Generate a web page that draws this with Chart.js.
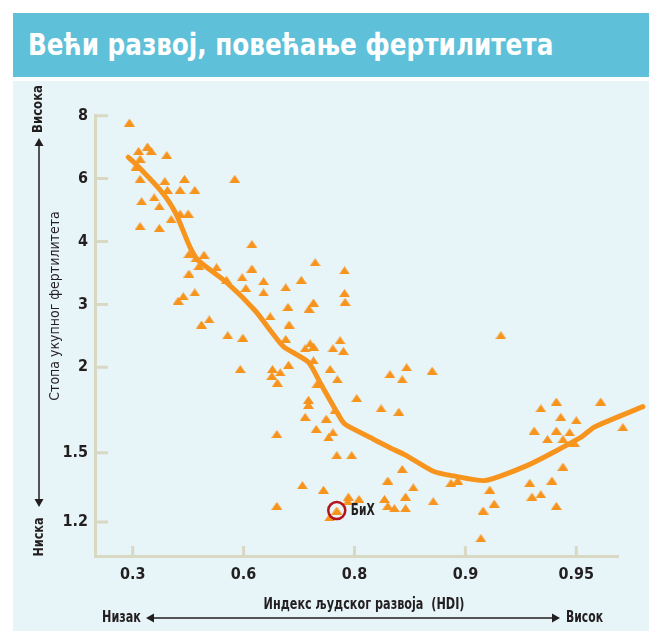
<!DOCTYPE html>
<html>
<head>
<meta charset="utf-8">
<script src="https://cdn.jsdelivr.net/npm/chart.js@4.4.1/dist/chart.umd.min.js"></script>
<style>
  html, body { margin: 0; padding: 0; background: #fff; }
  #wrap { position: relative; width: 649px; height: 631px; overflow: hidden; }
  #banner { position: absolute; left: 13px; top: 13px; width: 636px; height: 64px; background: #5ec1d9; }
  #banner h1 {
    position: absolute; left: 15px; top: 17px; margin: 0;
    font: bold 30px/30px 'Liberation Sans Narrow', 'DejaVu Sans Condensed', sans-serif;
    color: #fff; white-space: nowrap; transform-origin: 0 50%;
  }
  #panel { position: absolute; left: 13px; top: 81px; width: 636px; height: 550px; background: #e7f4f8; }
  #c { position: absolute; left: 0; top: 81px; }
</style>
</head>
<body>
<div id="wrap">
  <div id="banner"><h1 id="title">Већи развој, повећање фертилитета</h1></div>
  <div id="panel"></div>
  <canvas id="c" width="649" height="550"></canvas>
</div>
<script>
// земље: ИХР и стопа укупног фертилитета
const hdi = [
  0.291, 0.316, 0.340, 0.350, 0.392, 0.320, 0.309, 0.320, 0.387, 0.440,
  0.576, 0.394, 0.428, 0.468, 0.324, 0.358, 0.372, 0.404, 0.428, 0.450,
  0.320, 0.372, 0.615, 0.452, 0.493, 0.471, 0.479, 0.527, 0.615, 0.452,
  0.554, 0.596, 0.636, 0.604, 0.636, 0.676, 0.704, 0.729, 0.782, 0.782,
  0.783, 0.468, 0.437, 0.423, 0.680, 0.726, 0.718, 0.648, 0.682, 0.486,
  0.507, 0.557, 0.598, 0.676, 0.720, 0.726, 0.711, 0.774, 0.761, 0.780,
  0.726, 0.591, 0.652, 0.651, 0.666, 0.661, 0.681, 0.756, 0.769, 0.732,
  0.832, 0.847, 0.843, 0.870, 0.802, 0.824, 0.840, 0.717, 0.717, 0.711,
  0.749, 0.765, 0.731, 0.761, 0.753, 0.660, 0.768, 0.795, 0.843, 0.830,
  0.853, 0.846, 0.827, 0.871, 0.830, 0.836, 0.846, 0.789, 0.804, 0.788,
  0.706, 0.744, 0.755, 0.660, 0.887, 0.893, 0.911, 0.913, 0.908, 0.907,
  0.916, 0.934, 0.941, 0.961, 0.943, 0.950, 0.931, 0.941, 0.947, 0.937,
  0.944, 0.949, 0.971, 0.980, 0.944, 0.929, 0.939, 0.930, 0.934, 0.941
]
const tfr = [
  7.78, 6.88, 7.02, 6.88, 6.75, 6.63, 6.38, 5.99, 5.92, 5.99,
  5.99, 5.64, 5.64, 5.64, 5.28, 5.40, 5.12, 4.71, 4.89, 4.89,
  4.49, 4.43, 3.96, 3.80, 3.79, 3.73, 3.61, 3.59, 3.57, 3.49,
  3.39, 3.43, 3.37, 3.26, 3.19, 3.27, 3.39, 3.67, 3.54, 3.18,
  3.04, 3.19, 3.13, 3.06, 2.96, 3.03, 2.93, 2.81, 2.68, 2.68,
  2.76, 2.51, 2.47, 2.45, 2.38, 2.33, 2.30, 2.43, 2.30, 2.26,
  2.11, 1.99, 1.99, 1.95, 1.97, 1.91, 2.04, 1.99, 1.93, 1.90,
  1.96, 2.00, 1.93, 1.98, 1.82, 1.76, 1.74, 1.81, 1.78, 1.71,
  1.70, 1.75, 1.64, 1.62, 1.59, 1.61, 1.49, 1.49, 1.43, 1.38,
  1.35, 1.31, 1.30, 1.29, 1.27, 1.26, 1.26, 1.31, 1.30, 1.29,
  1.36, 1.34, 1.22, 1.27, 1.37, 1.38, 1.34, 1.28, 1.25, 1.13,
  2.51, 1.76, 1.80, 1.80, 1.71, 1.69, 1.63, 1.63, 1.62, 1.58,
  1.58, 1.56, 1.65, 1.62, 1.44, 1.37, 1.38, 1.31, 1.32, 1.27
]

// изглађена крива
const trendHdi = [0.288, 0.311, 0.374, 0.401, 0.421, 0.455, 0.477, 0.554, 0.621, 0.648,
  0.672, 0.717, 0.738, 0.777, 0.786, 0.817, 0.832, 0.846, 0.871, 0.889,
  0.909, 0.929, 0.952, 0.958, 0.980]
const trendTfr = [6.68, 6.43, 5.64, 5.21, 4.78, 3.91, 3.70, 3.35, 2.90, 2.59,
  2.33, 2.08, 1.91, 1.69, 1.66, 1.58, 1.53, 1.49, 1.42, 1.40,
  1.38, 1.45, 1.59, 1.65, 1.77]

// БиХ
const bihPoint = [0.768, 1.25]

const xTickLabels = ['0.3', '0.6', '0.8', '0.9', '0.95']
const yTickLabels = ['1.2', '1.5', '2', '3', '4', '6', '8']

// осе нису линеарне: подеоци стоје на овим местима
const xKnots = xTickLabels.map(Number)
const yKnots = yTickLabels.map(Number)
const xKnotPos = [0, 1, 2, 3, 4]
const yKnotPos = [0.54, 1.64, 3, 4, 5, 6, 7]

function knotPos(v, knots, pos) {
  let i = 0
  while (i < knots.length - 2 && v > knots[i + 1]) i++
  const t = (v - knots[i]) / (knots[i + 1] - knots[i])
  return pos[i] + t * (pos[i + 1] - pos[i])
}
const px = v => knotPos(v, xKnots, xKnotPos)
const py = v => knotPos(v, yKnots, yKnotPos)

const ORANGE = '#f7941d'
const AXIS = '#d9d8c3'
const INK = '#231f20'
const FONT = "'Liberation Sans Narrow', 'DejaVu Sans Condensed', sans-serif"

// наслов сабијен на ширину из оригинала
const title = document.getElementById('title')
title.style.transform = 'scaleX(' + Math.min(1, 525 / title.offsetWidth) + ')'

// мали спљоштени троугао
const tri = document.createElement('canvas')
tri.width = 11
tri.height = 8
const tctx = tri.getContext('2d')
tctx.fillStyle = ORANGE
tctx.beginPath()
tctx.moveTo(5.5, 0)
tctx.lineTo(11, 8)
tctx.lineTo(0, 8)
tctx.closePath()
tctx.fill()

function arrowHead(ctx, x, y, dx, dy) {
  // dx, dy: смер врха
  const len = 8, half = 4.5
  ctx.beginPath()
  ctx.moveTo(x, y)
  ctx.lineTo(x - dx * len - dy * half, y - dy * len + dx * half)
  ctx.lineTo(x - dx * len + dy * half, y - dy * len - dx * half)
  ctx.closePath()
  ctx.fill()
}

// текст који не сме бити шири од maxW
function fitText(ctx, txt, x, y, maxW) {
  const w = ctx.measureText(txt).width
  const k = Math.min(1, maxW / w)
  ctx.save()
  ctx.translate(x, y)
  ctx.scale(k, 1)
  ctx.fillText(txt, 0, 0)
  ctx.restore()
}

const innerTicks = {
  id: 'innerTicks',
  beforeDatasetsDraw(chart) {
    const { ctx, scales: { x, y } } = chart
    ctx.save()
    ctx.strokeStyle = AXIS
    ctx.lineWidth = 3
    ctx.beginPath()
    y.ticks.forEach(t => {
      const yy = y.getPixelForValue(t.value)
      ctx.moveTo(x.left, yy)
      ctx.lineTo(x.left + 13, yy)
    })
    x.ticks.forEach(t => {
      const xx = x.getPixelForValue(t.value)
      ctx.moveTo(xx, y.bottom)
      ctx.lineTo(xx, y.bottom - 10)
    })
    ctx.stroke()
    ctx.restore()
  }
}

const notes = {
  id: 'notes',
  afterDraw(chart) {
    const { ctx, scales: { x, y } } = chart
    ctx.save()
    ctx.fillStyle = INK
    ctx.strokeStyle = INK

    // лева страна
    ctx.lineWidth = 1.5
    ctx.beginPath()
    ctx.moveTo(39, 62)
    ctx.lineTo(39, 421)
    ctx.stroke()
    arrowHead(ctx, 39, 57, 0, -1)
    arrowHead(ctx, 39, 426, 0, 1)

    ctx.textAlign = 'center'
    ctx.textBaseline = 'middle'
    const vtext = (txt, cx, cy, font, maxW) => {
      ctx.save()
      ctx.translate(cx, cy)
      ctx.rotate(-Math.PI / 2)
      ctx.font = font
      fitText(ctx, txt, 0, 0, maxW)
      ctx.restore()
    }
    vtext('Висока', 38, 28, 'bold 14px ' + FONT, 48)
    vtext('Ниска', 39, 456, 'bold 14px ' + FONT, 39)
    vtext('Стопа укупног фертилитета', 55, 225, '14px ' + FONT, 191)

    // доле
    ctx.font = 'bold 15px ' + FONT
    fitText(ctx, 'Индекс људског развоја  (HDI)', 364, 524, 201)
    ctx.textAlign = 'left'
    fitText(ctx, 'Низак', 102, 537, 39)
    fitText(ctx, 'Висок', 566, 537, 37)
    ctx.beginPath()
    ctx.moveTo(152, 537)
    ctx.lineTo(554, 537)
    ctx.stroke()
    arrowHead(ctx, 146, 537, -1, 0)
    arrowHead(ctx, 560, 537, 1, 0)

    // БиХ
    const bx = x.getPixelForValue(px(bihPoint[0]))
    const by = y.getPixelForValue(py(bihPoint[1]))
    ctx.strokeStyle = '#b3131b'
    ctx.lineWidth = 2.5
    ctx.beginPath()
    ctx.arc(bx, by, 8.5, 0, Math.PI * 2)
    ctx.stroke()
    ctx.fillStyle = INK
    ctx.font = 'bold 15px ' + FONT
    ctx.textAlign = 'left'
    fitText(ctx, 'БиХ', bx + 14, by + 1, 24)
    ctx.restore()
  }
}

const tickFont = { family: FONT, size: 16, weight: 'bold' }

new Chart(document.getElementById('c'), {
  type: 'scatter',
  plugins: [innerTicks, notes],
  data: {
    datasets: [
      {
        type: 'line',
        data: trendHdi.map((h, i) => ({ x: px(h), y: py(trendTfr[i]) })),
        borderColor: ORANGE,
        borderWidth: 5,
        borderCapStyle: 'round',
        borderJoinStyle: 'round',
        tension: 0.2,
        pointRadius: 0,
        fill: false,
        clip: false,
      },
      {
        data: hdi.map((h, i) => ({ x: px(h), y: py(tfr[i]) })),
        pointStyle: tri,
        pointRadius: 6,
        clip: false,
      },
      {
        data: [{ x: px(bihPoint[0]), y: py(bihPoint[1]) }],
        pointStyle: tri,
        pointRadius: 6,
        clip: false,
      },
    ]
  },
  options: {
    responsive: false,
    animation: false,
    layout: { padding: { top: 34.7, right: 31, left: 0, bottom: 0 } },
    plugins: {
      legend: { display: false },
      tooltip: { enabled: false },
    },
    scales: {
      x: {
        type: 'linear',
        min: -0.34,
        max: 4.376,
        afterBuildTicks: s => { s.ticks = xKnotPos.map(v => ({ value: v })) },
        afterFit: s => { s.height = 75 },
        ticks: {
          callback: (v, i) => xTickLabels[i],
          autoSkip: false,
          maxRotation: 0,
          padding: 9,
          color: INK,
          font: tickFont,
        },
        grid: { display: false, drawTicks: false },
        border: { display: true, color: AXIS, width: 3 },
      },
      y: {
        type: 'linear',
        min: 0,
        max: 7,
        afterBuildTicks: s => { s.ticks = yKnotPos.map(v => ({ value: v })) },
        afterFit: s => { s.width = 95 },
        ticks: {
          callback: (v, i) => yTickLabels[i],
          autoSkip: false,
          padding: 7,
          color: INK,
          font: tickFont,
        },
        grid: { display: false, drawTicks: false },
        border: { display: true, color: AXIS, width: 3 },
      },
    },
  }
})
</script>
</body>
</html>
